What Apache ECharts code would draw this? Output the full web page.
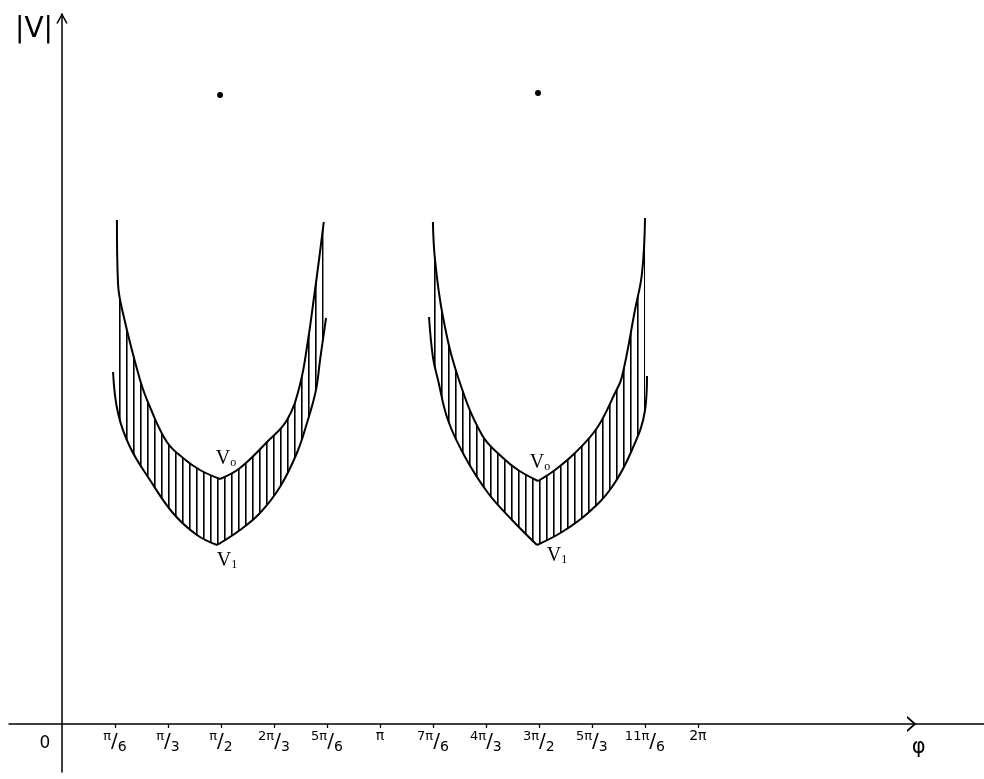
<!DOCTYPE html>
<html>
<head>
<meta charset="utf-8">
<style>
  html, body { margin: 0; padding: 0; background: #fff; }
  #chart { width: 984px; height: 779px; }
</style>
<script src="https://cdn.jsdelivr.net/npm/echarts@6/dist/echarts.min.js"></script>
</head>
<body>
<div id="chart"></div>
<script>
// phi in degrees (tick every pi/6 = 30deg), |V| in arbitrary units
const tickDeg = [0, 30, 60, 90, 120, 150, 180, 210, 240, 270, 300, 330, 360];
const tickNum = ['0', 'π', 'π', 'π', '2π', '5π', 'π', '7π', '4π', '3π', '5π', '11π', '2π'];
const tickDen = ['', '6', '3', '2', '3', '6', '', '6', '3', '2', '3', '6', ''];
const phiLabelDeg = 485;

// upper boundary (V0) and lower boundary (V1) of each lobe
const leftV0 = [[31.1, 5.04], [31.7, 4.41], [34.5, 4.11], [44.2, 3.44], [49.8, 3.17], [59.4, 2.82],
  [68.5, 2.66], [78.1, 2.54], [89.5, 2.45], [100.8, 2.56], [116.1, 2.82], [127.4, 3.04],
  [134.7, 3.39], [139.3, 3.84], [142.7, 4.27], [145.5, 4.64], [148.2, 5.02]];
const leftV1 = [[28.9, 3.52], [31.7, 3.11], [38.5, 2.77], [49.8, 2.44], [62.8, 2.11], [76.4, 1.89],
  [87.8, 1.79], [100.8, 1.94], [112.1, 2.11], [123.4, 2.37], [133.0, 2.71], [138.7, 3.01],
  [143.8, 3.34], [146.1, 3.64], [149.5, 4.06]];
const rightV0 = [[210.0, 5.02], [211.2, 4.64], [215.7, 4.07], [224.2, 3.47], [237.8, 2.89], [249.1, 2.67],
  [258.2, 2.54], [269.5, 2.43], [279.1, 2.54], [290.4, 2.71], [302.9, 2.96], [313.1, 3.31],
  [317.0, 3.47], [324.4, 4.14], [328.4, 4.51], [330.1, 5.06]];
const rightV1 = [[207.8, 4.07], [210.0, 3.67], [212.9, 3.44], [218.5, 3.04], [228.2, 2.67], [241.2, 2.31],
  [254.8, 2.04], [268.9, 1.79], [283.1, 1.92], [297.8, 2.11], [311.4, 2.37], [322.7, 2.74],
  [330.1, 3.14], [331.2, 3.48]];
const dots = [[89.5, 6.29], [269.5, 6.31]];

const chart = echarts.init(document.getElementById('chart'));

// vertical hatching pattern
const hatch = document.createElement('canvas');
hatch.width = 7;
hatch.height = 10;
const hctx = hatch.getContext('2d');
hctx.fillStyle = '#000';
hctx.fillRect(0, 0, 1.6, 10);

const ink = '#000';

function vertexIndex(pts) {
  let best = 0;
  pts.forEach((p, i) => { if (p[1] < pts[best][1]) best = i; });
  return best;
}

const vRich = {
  v: { fontFamily: 'Liberation Serif', fontSize: 20, color: ink },
  s: { fontFamily: 'Liberation Serif', fontSize: 12, color: ink, padding: [7, 0, 0, 0] }
};

// each curve is drawn as two smooth branches meeting in a sharp vertex
function branches(pts, area, labelText, labelOffset) {
  const vi = vertexIndex(pts);
  const parts = [pts.slice(0, vi + 1), pts.slice(vi)];
  return parts.map((part, k) => {
    const s = {
      type: 'line',
      data: part,
      smooth: 0.4,
      symbol: 'none',
      lineStyle: { color: ink, width: 2 },
      areaStyle: area,
      z: 2
    };
    if (k === 0) {
      s.markPoint = {
        silent: true,
        symbol: 'circle',
        symbolSize: 0,
        data: [{ coord: pts[vi] }],
        label: {
          show: true,
          position: 'inside',
          offset: labelOffset,
          formatter: labelText,
          rich: vRich
        }
      };
    }
    return s;
  });
}

// white fill under the whole lower curve, closes the seam at the vertex
function cover(pts) {
  return {
    type: 'line',
    data: pts,
    smooth: 0.4,
    symbol: 'none',
    lineStyle: { width: 0, opacity: 0 },
    areaStyle: coverArea,
    z: 2
  };
}

const hatchArea = { color: { image: hatch, repeat: 'repeat' }, opacity: 1, origin: 0.06 };
const coverArea = { color: '#fff', opacity: 1, origin: 0.02 };

const option = {
  animation: false,
  backgroundColor: '#fff',
  grid: [
    { left: 9, right: 0, top: 14, bottom: 55 },
    // only carries the |V| axis line, which runs below the phi axis
    { left: 62, width: 20, top: 14, bottom: 7, outerBoundsMode: 'none' }
  ],
  xAxis: [
    {
      type: 'value',
      min: -30,
      max: 522,
      splitLine: { show: false },
      axisLine: { lineStyle: { color: ink, width: 1.5 } },
      axisTick: { customValues: tickDeg.slice(1), length: 4, lineStyle: { color: ink, width: 1.3 } },
      axisLabel: {
        customValues: tickDeg.concat([phiLabelDeg]),
        margin: 5,
        color: ink,
        formatter: function (value) {
          if (value === phiLabelDeg) return '{phi|φ}';
          const i = tickDeg.indexOf(value);
          if (i === 0) return '{zero|0}';
          if (!tickDen[i]) return '{one|' + tickNum[i] + '}';
          return '{n|' + tickNum[i] + '}{sl|/}{d|' + tickDen[i] + '}';
        },
        rich: {
          zero: { fontFamily: 'DejaVu Sans', fontSize: 17, padding: [6, 34, 0, 0], color: ink },
          one: { fontFamily: 'DejaVu Sans', fontSize: 14, padding: [0, 0, 6, 0], color: ink },
          n: { fontFamily: 'DejaVu Sans', fontSize: 13, padding: [0, 0, 10, 0], color: ink },
          sl: { fontFamily: 'DejaVu Sans', fontSize: 20, color: ink },
          d: { fontFamily: 'DejaVu Sans', fontSize: 14, padding: [11, 0, 0, 0], color: ink },
          phi: { fontFamily: 'DejaVu Sans', fontSize: 21, padding: [8, 0, 0, 0], color: ink }
        }
      }
    },
    { gridIndex: 1, type: 'value', min: 0, max: 1, show: false }
  ],
  yAxis: [
    {
      type: 'value',
      min: 0,
      max: 7.1,
      splitLine: { show: false },
      axisLine: { show: false },
      axisTick: { show: false },
      axisLabel: { show: false }
    },
    {
      gridIndex: 1,
      type: 'value',
      min: 0,
      max: 1,
      position: 'left',
      name: '|V|',
      nameLocation: 'end',
      nameGap: -2,
      nameTextStyle: {
        fontFamily: 'DejaVu Sans', fontSize: 28, color: ink,
        align: 'right', verticalAlign: 'top', padding: [0, 9, 0, 0]
      },
      splitLine: { show: false },
      axisLine: { show: true, onZero: false, lineStyle: { color: ink, width: 1.5 } },
      axisTick: { show: false },
      axisLabel: { show: false }
    }
  ],
  series: [
    ...branches(leftV0, hatchArea, '{v|V}{s|o}', [6, -20]),
    cover(leftV1),
    ...branches(leftV1, coverArea, '{v|V}{s|1}', [10, 16]),
    ...branches(rightV0, hatchArea, '{v|V}{s|o}', [2, -18]),
    cover(rightV1),
    ...branches(rightV1, coverArea, '{v|V}{s|1}', [20, 11]),
    {
      type: 'scatter',
      data: dots,
      symbolSize: 6,
      itemStyle: { color: ink, opacity: 1 },
      z: 3,
      markPoint: {
        silent: true,
        label: { show: false },
        data: [
          {
            coord: [480.7, 0],
            symbol: 'path://M0,0 L10,7 L0,14',
            symbolSize: [8, 14],
            itemStyle: { color: 'none', borderColor: ink, borderWidth: 1.5 }
          },
          {
            coord: [0, 7.05],
            symbol: 'path://M0,10 L5,0 L10,10',
            symbolSize: [10, 9],
            itemStyle: { color: 'none', borderColor: ink, borderWidth: 1.5 }
          }
        ]
      }
    }
  ]
};

chart.setOption(option);
</script>
</body>
</html>
